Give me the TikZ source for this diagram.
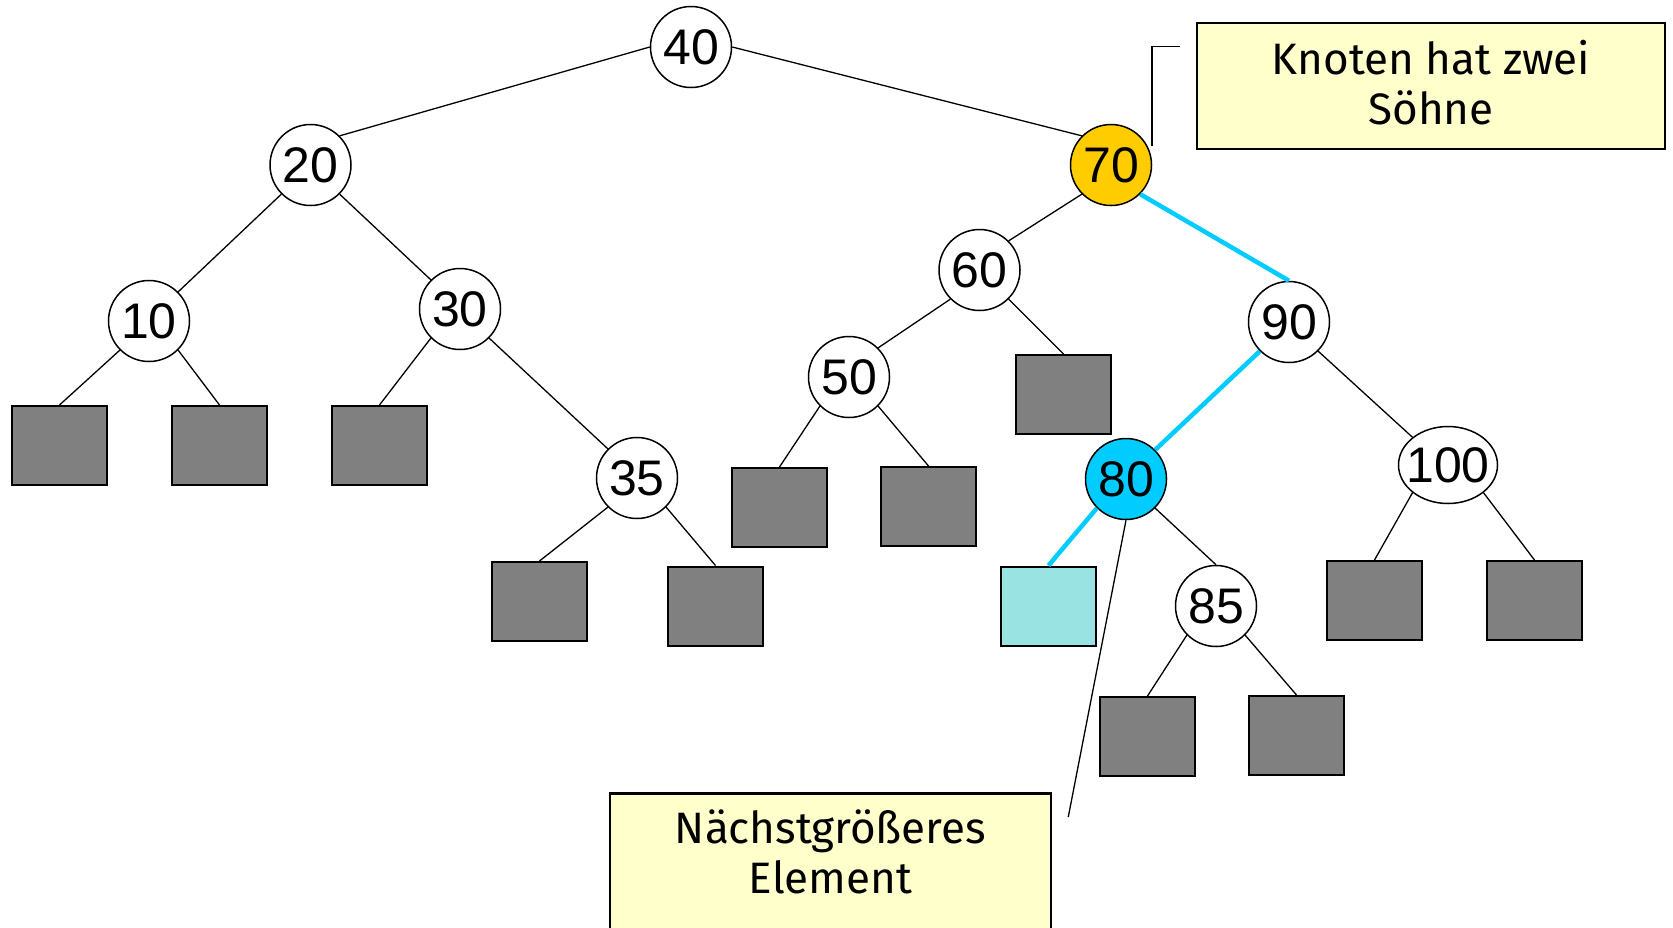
\documentclass[tikz,border=0pt]{standalone}
\usepackage{fontspec}
\setmainfont{Liberation Sans}
\newfontfamily\notefont{Fira Sans}
\usepackage{xcolor}
\usepackage{tikz}
\usetikzlibrary{shapes.geometric}

\definecolor{leafgray}{HTML}{808080}
\definecolor{keyyellow}{HTML}{FFCC00}
\definecolor{keycyan}{HTML}{00CCFF}
\definecolor{leafcyan}{HTML}{99E3E3}
\definecolor{notefill}{HTML}{FFFFCC}

\begin{document}
\begin{tikzpicture}[
    x=1pt, y=-1pt,
    key/.style={circle, draw, fill=white, line width=1.5pt, minimum size=81pt, inner sep=0pt, font=\fontsize{50}{60}\selectfont},
    leaf/.style={rectangle, draw, fill=leafgray, line width=2pt, minimum width=95pt, minimum height=79pt},
    edge/.style={line width=1.3pt},
    hot/.style={line width=4.5pt, draw=keycyan},
    note/.style={draw, fill=notefill, line width=2.5pt, align=center, font=\notefont\fontsize{44}{50}\selectfont}
]
\path[use as bounding box, fill=white] (0,0) rectangle (1673,927);

% inner nodes
\node[key] (k40) at (691,47) {40};
\node[key] (k20) at (310.5,165) {20};
\node[key, fill=keyyellow] (k70) at (1111,165) {70};
\node[key] (k10) at (149,321) {10};
\node[key] (k30) at (460,309) {30};
\node[key] (k60) at (979.5,270) {60};
\node[key] (k90) at (1289,322) {90};
\node[key] (k50) at (849,377) {50};
\node[key] (k35) at (637,478) {35};
\node[key, fill=keycyan] (k80) at (1126,479) {80};
\node[key, ellipse, minimum width=99pt, minimum height=77pt] (k100) at (1448,465) {\makebox[0pt]{100}};
\node[key] (k85) at (1216,606) {85};

% leaves
\node[leaf] (l10a) at (59.5,445.5) {};
\node[leaf] (l10b) at (219.5,445.5) {};
\node[leaf] (l30) at (379.5,445.5) {};
\node[leaf] (l35a) at (539.5,601.5) {};
\node[leaf] (l35b) at (715.5,606) {};
\node[leaf] (l50a) at (779.5,507.5) {};
\node[leaf] (l50b) at (928.5,506.5) {};
\node[leaf] (l60) at (1063.5,394.5) {};
\node[leaf, fill=leafcyan] (l80) at (1048.5,606) {};
\node[leaf] (l85a) at (1147.5,736.5) {};
\node[leaf] (l85b) at (1296.5,735.5) {};
\node[leaf] (l100a) at (1374.5,600.5) {};
\node[leaf] (l100b) at (1534.5,600.5) {};

% edges
\draw[edge] (k40.west) -- (k20.north east);
\draw[edge] (k40.east) -- (k70.north west);
\draw[edge] (k20.south west) -- (k10.north east);
\draw[edge] (k20.south east) -- (k30.north west);
\draw[edge] (k10.south west) -- (l10a.north);
\draw[edge] (k10.south east) -- (l10b.north);
\draw[edge] (k30.south west) -- (l30.north);
\draw[edge] (k30.south east) -- (k35.north west);
\draw[edge] (k35.south west) -- (l35a.north);
\draw[edge] (k35.south east) -- (l35b.north);
\draw[edge] (k70.south west) -- (k60.north east);
\draw[hot] (k70.south east) -- (k90.north);
\draw[edge] (k60.south west) -- (k50.north east);
\draw[edge] (k60.south east) -- (l60.north);
\draw[edge] (k50.south west) -- (l50a.north);
\draw[edge] (k50.south east) -- (l50b.north);
\draw[hot] (k90.south west) -- (k80.north east);
\draw[edge] (k90.south east) -- (k100.north west);
\draw[hot] (k80.south west) -- (l80.north);
\draw[edge] (k80.south east) -- (k85.north);
\draw[edge] (k85.south west) -- (l85a.north);
\draw[edge] (k85.south east) -- (l85b.north);
\draw[edge] (k100.south west) -- (l100a.north);
\draw[edge] (k100.south east) -- (l100b.north);

% callouts
\node[note, minimum width=468pt, minimum height=126pt] (zweibox) at (1431,86) {Knoten hat zwei\\Söhne\rule[-8pt]{0pt}{8pt}};
\node[note, minimum width=441pt, inner ysep=16pt, anchor=north] (elembox) at (830.5,792) {Nächstgrößeres\\Element\\\mbox{}};
\coordinate (zweitip) at (1152,146);
\coordinate (zweibend) at ([xshift=-16pt, yshift=-25pt]zweibox.north west);
\draw[edge] (zweitip) -- (zweitip |- zweibend) -- (zweibend);
\draw[edge] (k80.south) -- ([xshift=16pt, yshift=-25pt]elembox.north east);
\end{tikzpicture}
\end{document}
